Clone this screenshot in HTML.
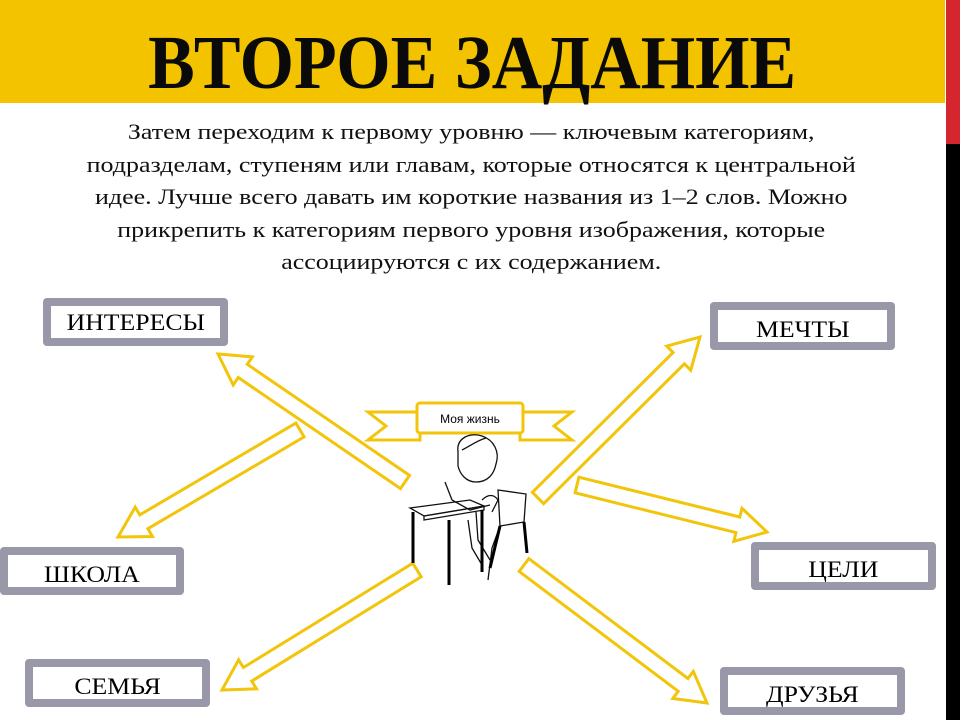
<!DOCTYPE html>
<html><head><meta charset="utf-8"><style>
html,body{margin:0;padding:0;}
body{width:960px;height:720px;position:relative;overflow:hidden;background:#fff;font-family:"Liberation Serif",serif;}
.hdr{position:absolute;left:0;top:0;width:945px;height:103px;background:#f3c300;}
.red{position:absolute;left:946px;top:0;width:14px;height:144px;background:#d5262f;}
.blk{position:absolute;left:946px;top:144px;width:14px;height:576px;background:#000;}
.title{position:absolute;left:0;width:945px;top:23px;text-align:center;font-weight:bold;font-size:76px;line-height:80px;color:#0a0a0a;}
.title span{display:inline-block;transform:scaleX(0.92);}
.para{position:absolute;left:-34px;width:1000px;top:116px;text-align:center;font-size:22px;line-height:32.6px;color:#111;transform:scaleX(1.18);transform-origin:471px 0;}
.box{position:absolute;box-sizing:border-box;border:8px solid #9898a8;border-radius:4px;background:#fff;font-size:23px;color:#000;text-align:center;line-height:34px;}
.box span{display:inline-block;transform:scaleX(1.12);}
svg{position:absolute;left:0;top:0;}
</style></head><body>
<div class="hdr"></div><div class="red"></div><div class="blk"></div>
<div class="title"><span>ВТОРОЕ ЗАДАНИЕ</span></div>
<div class="para">Затем переходим к первому уровню — ключевым категориям,<br>подразделам, ступеням или главам, которые относятся к центральной<br>идее. Лучше всего давать им короткие названия из 1–2 слов. Можно<br>прикрепить к категориям первого уровня изображения, которые<br>ассоциируются с их содержанием.</div>

<svg id="s" width="960" height="720" viewBox="0 0 960 720"></svg>

<div class="box" style="left:43px;top:298px;width:185px;height:48px;"><span>ИНТЕРЕСЫ</span></div>
<div class="box" style="left:0px;top:547px;width:184px;height:48px;line-height:40px;"><span>ШКОЛА</span></div>
<div class="box" style="left:25px;top:659px;width:185px;height:48px;line-height:40px;"><span>СЕМЬЯ</span></div>
<div class="box" style="left:710px;top:302px;width:185px;height:48px;line-height:40px;"><span>МЕЧТЫ</span></div>
<div class="box" style="left:751px;top:542px;width:185px;height:48px;line-height:40px;"><span>ЦЕЛИ</span></div>
<div class="box" style="left:720px;top:667px;width:185px;height:48px;line-height:40px;"><span>ДРУЗЬЯ</span></div>

<svg width="960" height="720" viewBox="0 0 960 720">
<g fill="#fff" stroke="#f2c40a" stroke-width="3">
<polygon points="368,412 420,412 420,440 368,440 386,426"/>
<polygon points="572,412 520,412 520,440 572,440 554,426"/>
<rect x="417" y="403" width="106" height="30" rx="3"/>
</g>
<text x="470" y="423" text-anchor="middle" font-family="Liberation Sans, sans-serif" font-size="12" fill="#000">Моя жизнь</text>
<g fill="none" stroke="#111" stroke-width="1.3">
<path d="M458,452 C456,438 470,432 482,436 C494,440 500,452 496,464 C494,474 488,482 476,482 C466,482 460,474 458,466 Z"/>
<path d="M462,450 C470,446 478,440 486,438"/>
<path d="M482,500 C488,494 494,494 498,500 L492,512"/>
<path d="M445,482 L452,500"/>
<path d="M452,500 L470,510 L490,505"/>
<path d="M410,508 L470,500 L484,506 L424,516 Z"/>
<path d="M424,516 L484,506 L484,510 L424,520 Z"/>
<path d="M476,512 L478,540 L490,560 M468,520 L472,548 L482,565"/>
<path d="M498,490 L526,494 L524,522 L500,526 Z"/>
<path d="M500,526 L492,548 L488,580"/>
</g>
<g stroke="#000" stroke-width="3">
<line x1="413" y1="512" x2="413" y2="563"/>
<line x1="449" y1="520" x2="449" y2="585"/>
<line x1="482" y1="510" x2="482" y2="572"/>
<line x1="524" y1="522" x2="527" y2="553"/>
<line x1="500" y1="526" x2="490" y2="568"/>
</g>
</svg>

<script>
var arrows=[[405,482,218,354],[300,430,118,537],[417,570,222,690],[538,498,700,337],[577,485,767,532],[524,565,707,703]];
var s=document.getElementById('s');var out='<g fill="#fff" stroke="#f2c40a" stroke-width="3" stroke-linejoin="miter">';
arrows.forEach(function(a){var dx=a[2]-a[0],dy=a[3]-a[1],L=Math.sqrt(dx*dx+dy*dy),ux=dx/L,uy=dy/L,nx=-uy,ny=ux;
var w=8,hw=17,hl=30;var bx=a[2]-ux*hl,by=a[3]-uy*hl;
var p=[[a[0]+nx*w,a[1]+ny*w],[bx+nx*w,by+ny*w],[bx+nx*hw,by+ny*hw],[a[2],a[3]],[bx-nx*hw,by-ny*hw],[bx-nx*w,by-ny*w],[a[0]-nx*w,a[1]-ny*w]];
out+='<polygon points="'+p.map(function(q){return q[0].toFixed(1)+','+q[1].toFixed(1)}).join(' ')+'"/>';});
s.innerHTML=out+'</g>';
</script>
</body></html>
